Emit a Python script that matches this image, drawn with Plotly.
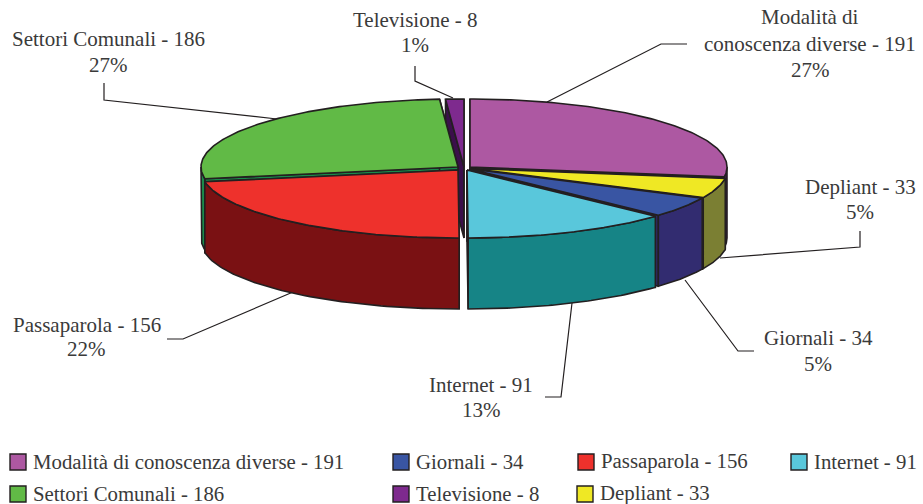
import numpy as np
import plotly.graph_objects as go

# data, clockwise from 12 o'clock
categories = ["Modalità di conoscenza diverse", "Depliant", "Giornali", "Internet", "Passaparola", "Settori Comunali", "Televisione"]
values = [191, 33, 34, 91, 156, 186, 8]

# colours of top face and of the sides
top_colors = ["#AD58A2", "#EFE824", "#3955A3", "#59C7DB", "#EE312C", "#61BA46", "#7E2A8E"]
side_colors = ["#4B1C5E", "#7B7F33", "#322C70", "#168486", "#7A1113", "#1A8A4A", "#3B0F4B"]

# pie geometry in page pixels, each slice has its own exploded tip
RX, RY, DEPTH = 257, 68, 71
tips = [(470, 167), (471, 168.5), (470, 169), (467, 170), (458, 170), (458, 167), (464, 167)]
DRAW_ORDER = [6, 5, 0, 1, 2, 3, 4]  # back to front

INK = "#231F20"
TEXT = "#3A3A3A"
FONT = "Liberation Serif"
FSIZE = 21
LEGEND_FSIZE = 20.8

total = sum(values)
ends = np.cumsum(values) / total * 2 * np.pi
starts = np.concatenate(([0], ends[:-1]))


def rim(tip, a):
    return tip[0] + RX * np.sin(a), tip[1] - RY * np.cos(a)


def poly(xs, ys, fill):
    return go.Scatter(x=list(xs), y=list(ys), mode="lines", fill="toself", fillcolor=fill,
                      line=dict(color=INK, width=1.6), hoverinfo="skip", showlegend=False)


fig = go.Figure()

# leader lines go under the pie
leaders = [
    ([104, 104, 277], [83, 100, 119]),
    ([415, 415, 453], [66, 81, 98]),
    ([547, 661, 687], [102, 44, 44]),
    ([860, 860, 720], [231, 247, 258]),
    ([685, 738, 754], [280, 351, 351]),
    ([572, 561, 545], [303, 397, 397]),
    ([293, 183, 167], [292, 339, 339]),
]
for lx, ly in leaders:
    fig.add_trace(go.Scatter(x=lx, y=ly, mode="lines", line=dict(color=INK, width=1.2),
                             hoverinfo="skip", showlegend=False))

for i in DRAW_ORDER:
    tip, a0, a1 = tips[i], starts[i], ends[i]
    # cut faces
    for a in (a0, a1):
        rx_, ry_ = rim(tip, a)
        fig.add_trace(poly([tip[0], rx_, rx_, tip[0], tip[0]],
                           [tip[1], ry_, ry_ + DEPTH, tip[1] + DEPTH, tip[1]], side_colors[i]))
    # outer wall, front half only
    w0, w1 = max(a0, np.pi / 2), min(a1, 3 * np.pi / 2)
    if w1 > w0:
        t = np.linspace(w0, w1, 60)
        wx, wy = rim(tip, t)
        fig.add_trace(poly(np.concatenate((wx, wx[::-1], wx[:1])),
                           np.concatenate((wy, wy[::-1] + DEPTH, wy[:1])), side_colors[i]))
    # top face
    t = np.linspace(a0, a1, 120)
    tx, ty = rim(tip, t)
    fig.add_trace(poly(np.concatenate(([tip[0]], tx, [tip[0]])),
                       np.concatenate(([tip[1]], ty, [tip[1]])), top_colors[i]))

# data labels
label_pos = [
    (810, 44, 70), (860, 187, 212), (818, 338, 364), (481, 385, 410),
    (86.5, 325, 349), (108, 39, 65), (415, 20, 45),
]
annotations = []


def add_text(x, y, text, anchor="center", size=FSIZE):
    annotations.append(dict(x=x, y=y, text=text, showarrow=False, xanchor=anchor, yanchor="middle",
                            font=dict(family=FONT, size=size, color=TEXT)))


for i, (lx, y1, y2) in enumerate(label_pos):
    pct = f"{round(values[i] / total * 100)}%"
    if i == 0:
        add_text(lx, 17, "Modalità di")
        add_text(lx, y1, f"conoscenza diverse - {values[i]}")
    else:
        add_text(lx, y1, f"{categories[i]} - {values[i]}")
    add_text(lx, y2, pct)

# legend, laid out by hand because the columns are uneven
legend_slots = {0: (18, 462), 2: (401, 462), 4: (586, 462), 3: (799, 462),
                5: (18, 494), 6: (401, 494), 1: (585, 494)}
for i, (sx, sy) in legend_slots.items():
    fig.add_trace(go.Scatter(x=[sx], y=[sy], mode="markers", hoverinfo="skip", showlegend=False,
                             marker=dict(symbol="square", size=16, color=top_colors[i],
                                         line=dict(color=INK, width=1.4))))
    add_text(sx + 12.5, sy - 1, f"{categories[i]} - {values[i]}", anchor="left", size=LEGEND_FSIZE)

fig.update_layout(
    width=923, height=504, margin=dict(l=0, r=0, t=0, b=0),
    paper_bgcolor="white", plot_bgcolor="white", annotations=annotations,
    xaxis=dict(range=[0, 923], visible=False, fixedrange=True),
    yaxis=dict(range=[504, 0], visible=False, fixedrange=True),
)
# drop the browser's default body margin so the axes line up with the page
fig.write_html("out.html", config=dict(displayModeBar=False),
               post_script="document.body.style.margin='0';")
